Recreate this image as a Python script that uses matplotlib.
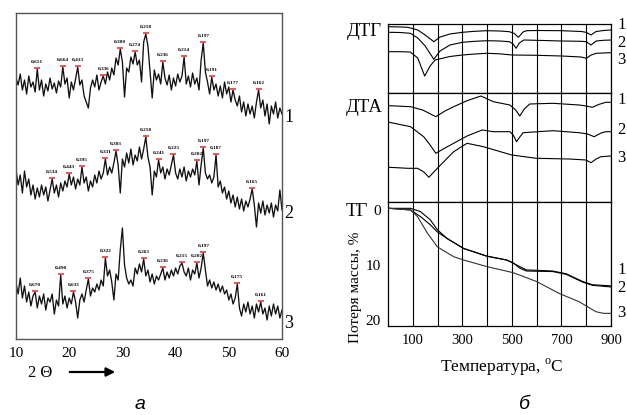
import numpy as np
import matplotlib.pyplot as plt

plt.rcParams['font.family'] = ['Liberation Serif', 'DejaVu Serif']
plt.rcParams['mathtext.fontset'] = 'custom'
plt.rcParams['mathtext.rm'] = 'Liberation Serif'

## XRD patterns (panel a), intensities, arbitrary units
two_theta = np.linspace(10, 60, 126)

xrd_1 = [42, 35, 46, 30, 40, 26, 44, 33, 38, 28, 51, 30, 40, 24, 36, 29, 42, 31, 37, 27,
         39, 33, 53, 36, 42, 22, 38, 30, 41, 53, 35, 40, 24, 18, 12, 32, 40, 33, 45, 30,
         38, 44, 36, 48, 40, 52, 45, 62, 55, 71, 58, 23, 52, 48, 63, 56, 68, 55, 60, 38,
         78, 86, 74, 48, 22, 50, 40, 46, 36, 58, 42, 35, 45, 30, 42, 34, 46, 38, 44, 63,
         36, 44, 33, 47, 36, 42, 30, 60, 77, 48, 38, 26, 43, 30, 36, 24, 34, 22, 38, 26,
         33, 18, 30, 20, 14, 24, 8, 18, 4, 16, 6, 14, 2, 18, 30, 12, 20, 4, 16, -4,
         14, 6, 18, 2, 12, 6]
xrd_2 = [45, 30, 40, 22, 44, 28, 36, 20, 30, 16, 27, 18, 30, 20, 28, 14, 25, 36, 22, 30,
         18, 32, 24, 34, 28, 41, 30, 38, 26, 36, 30, 48, 32, 38, 24, 34, 28, 40, 32, 44,
         36, 42, 56, 40, 48, 42, 52, 64, 50, 22, 56, 48, 62, 52, 66, 50, 60, 54, 68, 56,
         66, 78, 58, 48, 20, 44, 38, 55, 42, 48, 36, 46, 40, 50, 60, 42, 36, 46, 38, 48,
         34, 44, 38, 46, 40, 54, 30, 50, 67, 42, 36, 40, 32, 38, 60, 28, 34, 22, 28, 16,
         24, 12, 20, 8, 18, 6, 16, 4, 14, 8, 16, 26, 10, -12, 12, 2, 14, 0, 10, 2,
         12, -2, 10, 4, 25, 5]
xrd_3 = [37, 26, 42, 22, 34, 18, 28, 14, 24, 28, 12, 24, 16, 26, 10, 22, 18, 26, 6, 20,
         14, 45, 16, 24, 12, 22, 16, 28, 18, 2, 20, 26, 18, 30, 41, 24, 32, 28, 36, 30,
         40, 34, 62, 44, 50, 38, 20, 46, 40, 70, 92, 55, 42, 36, 40, 34, 52, 46, 56, 48,
         61, 44, 50, 38, 46, 36, 44, 40, 46, 52, 40, 48, 42, 50, 44, 52, 46, 54, 57, 48,
         44, 52, 40, 50, 46, 57, 42, 52, 67, 50, 34, 40, 32, 38, 30, 36, 28, 34, 26, 30,
         20, 26, 16, 22, 36, 12, 4, 16, 8, 18, 6, 14, 2, 16, 8, 18, 6, 12, 0, 14,
         4, 16, 6, 14, 2, 10]
xrd_offsets = [219, 124, 19]

peaks_pos_1 = [14.0, 18.8, 21.6, 26.4, 29.6, 32.4, 34.4, 37.6, 41.6, 45.2, 46.8, 50.8, 55.6]
peaks_lab_1 = ['0,651', '0,664', '0,413', '0,336', '0,300', '0,274', '0,258', '0,236',
               '0,214', '0,197', '0,191', '0,177', '0,162']
peaks_pos_2 = [16.8, 20.0, 22.4, 26.8, 28.8, 34.4, 36.8, 39.6, 44.0, 45.2, 47.6, 54.4]
peaks_lab_2 = ['0,534', '0,443', '0,395', '0,331', '0,303', '0,258', '0,241', '0,225',
               '0,202', '0,197', '0,187', '0,165']
peaks_pos_3 = [13.6, 18.4, 20.8, 23.6, 26.8, 34.0, 37.6, 41.2, 44.0, 45.2, 51.6, 56.0]
peaks_lab_3 = ['0,670', '0,490', '0,633', '0,375', '0,322', '0,263', '0,236', '0,215',
               '0,202', '0,197', '0,175', '0,161']

## Thermal analysis (panel b)
dtg_T1 = [5, 50, 80, 120, 150, 185, 210, 250, 300, 350, 400, 450, 490, 510, 526, 545, 560, 600, 700, 780, 800, 819, 840, 870, 900]
dtg_1 = [66.3, 66, 65.7, 63, 58, 51.3, 56, 59, 60.7, 61.7, 62.3, 62, 61.3, 59.5, 55.7, 61, 62.3, 62.5, 62.3, 61.5, 60.7, 58, 61.5, 62.5, 63]
dtg_T2 = [5, 50, 90, 120, 150, 185, 210, 250, 300, 350, 400, 450, 490, 505, 517, 530, 548, 600, 700, 780, 800, 819, 840, 870, 900]
dtg_2 = [60.7, 60.5, 59.7, 55, 47, 33.7, 42, 48, 50.7, 51.7, 52.3, 52, 51.3, 49, 44.7, 50, 53, 52.7, 52, 51.7, 51.3, 48, 52, 52.7, 53]
dtg_T3 = [5, 50, 90, 120, 148, 170, 190, 250, 300, 350, 400, 450, 500, 600, 700, 780, 800, 820, 840, 900]
dtg_3 = [41.3, 41.3, 41, 35, 17, 27, 33, 36.5, 38, 39, 39.7, 39.2, 38, 37.7, 37, 36, 34.7, 38, 39.7, 40.3]

dta_T1 = [5, 91, 140, 193, 230, 265, 319, 375, 425, 492, 515, 532, 550, 572, 665, 772, 800, 825, 850, 879, 900]
dta_1 = [96.3, 95.3, 92, 85.3, 91, 95.3, 101.3, 106, 100.3, 97, 92, 86, 93, 98, 98.7, 97, 96, 94.7, 97.5, 99.7, 99.7]
dta_T2 = [5, 91, 144, 170, 193, 230, 265, 319, 380, 425, 492, 505, 519, 532, 545, 665, 772, 805, 832, 860, 879, 900]
dta_2 = [79.7, 75.3, 65.3, 57, 48.7, 54, 58.7, 66, 72, 70.3, 70.3, 67, 60.3, 65, 69.3, 71.3, 69.3, 68, 65.3, 69, 70.3, 70.3]
dta_T3 = [5, 79, 119, 145, 165, 185, 212, 265, 319, 385, 499, 599, 732, 799, 819, 840, 859, 900]
dta_3 = [34.7, 33.7, 33.7, 30, 24.7, 30, 37, 50.3, 58.7, 55.3, 47, 43.7, 43, 42, 39.3, 43, 45.3, 46]

tg_T1 = [5, 91, 131, 171, 199, 239, 305, 399, 479, 532, 559, 665, 719, 785, 825, 900]
tg_1 = [-0.3, -0.3, 0.3, 1.8, 3.6, 5.2, 7.0, 8.4, 9.1, 10.3, 10.9, 11.1, 11.6, 13.0, 13.6, 13.8]
tg_T2 = [5, 91, 131, 171, 199, 239, 305, 399, 479, 505, 532, 559, 665, 719, 785, 825, 900]
tg_2 = [-0.3, 0.0, 1.2, 2.7, 4.0, 5.2, 7.0, 8.4, 9.1, 9.6, 10.6, 11.1, 11.2, 11.7, 13.1, 13.7, 14.0]
tg_T3 = [5, 91, 119, 159, 199, 265, 305, 399, 505, 599, 692, 772, 839, 870, 900]
tg_3 = [-0.3, 0.0, 1.2, 4.2, 6.7, 8.5, 9.1, 10.3, 11.4, 13.0, 15.2, 16.7, 18.5, 18.8, 18.8]

W, H = 627, 415
fig = plt.figure(figsize=(W / 100, H / 100), dpi=100)

def fx(px):
    return px / W

def fy(py):
    return 1 - py / H

# ---- panel a
ax = fig.add_axes([fx(16), fy(339), 266 / W, 326 / H])
ax.set_xlim(10, 60)
ax.set_ylim(0, 326)
for s in ax.spines.values():
    s.set_color('#555555')
    s.set_linewidth(1.0)

series = [(xrd_1, peaks_pos_1, peaks_lab_1), (xrd_2, peaks_pos_2, peaks_lab_2), (xrd_3, peaks_pos_3, peaks_lab_3)]
for (vals, ppos, plab), off in zip(series, xrd_offsets):
    y = np.array(vals) + off
    ax.plot(two_theta, y, color='#111111', lw=0.95)
    for p, lab in zip(ppos, plab):
        i = np.argmin(np.abs(two_theta - p))
        ax.plot(p, y[i] + 1, marker='_', color='#e0403a', ms=5, mew=1.2)
        ax.text(p, y[i] + 5, lab, fontsize=3.8, fontweight='bold', ha='center', va='bottom')

ax.set_xticks([10, 20, 30, 40, 50, 60])
ax.set_yticks([])
ax.tick_params(axis='x', length=0, pad=6, labelsize=11)

for lab, py in zip(['1', '2', '3'], [117, 213, 323]):
    fig.text(fx(289), fy(py), lab, fontsize=13, ha='center', va='center')

fig.text(fx(40), fy(373), '2 Θ', fontsize=12, ha='center', va='center')
ax.annotate('', xy=(fx(118), fy(372)), xytext=(fx(67), fy(372)),
            xycoords='figure fraction', textcoords='figure fraction',
            arrowprops=dict(arrowstyle='-|>', color='k', lw=1.6, mutation_scale=13),
            annotation_clip=False)
fig.text(fx(140), fy(404), 'a', fontsize=14, style='italic', family='Liberation Sans',
         ha='center', va='center')

# ---- panel b
xl, wd = fx(388), 223 / W
ax_dtg = fig.add_axes([xl, fy(93), wd, 69 / H])
ax_dta = fig.add_axes([xl, fy(202), wd, 109 / H])
ax_tg = fig.add_axes([xl, fy(326), wd, 124 / H])

ax_dtg.set_ylim(0, 69)
ax_dta.set_ylim(0, 109)
ax_tg.set_ylim(21.1, -1.45)

ax_dtg.plot(dtg_T1, dtg_1, color='k', lw=0.8)
ax_dtg.plot(dtg_T2, dtg_2, color='k', lw=0.8)
ax_dtg.plot(dtg_T3, dtg_3, color='k', lw=0.8)
ax_dta.plot(dta_T1, dta_1, color='k', lw=0.8)
ax_dta.plot(dta_T2, dta_2, color='k', lw=0.8)
ax_dta.plot(dta_T3, dta_3, color='k', lw=0.8)
ax_tg.plot(tg_T1, tg_1, color='k', lw=0.8)
ax_tg.plot(tg_T2, tg_2, color='k', lw=0.8)
ax_tg.plot(tg_T3, tg_3, color='#333333', lw=0.8)

for a in [ax_dtg, ax_dta, ax_tg]:
    a.set_xlim(0, 900)
    a.set_xticks(range(100, 901, 100))
    a.grid(axis='x', color='k', lw=0.8)
    a.tick_params(length=0)
    for s in a.spines.values():
        s.set_linewidth(0.9)
    if a is not ax_tg:
        a.set_yticks([])
        a.set_xticklabels([])

ax_tg.set_xticklabels(['100', '', '300', '', '500', '', '700', '', '900'])
ax_tg.tick_params(axis='x', pad=6, labelsize=10.5)
ax_tg.set_yticks([0, 10, 20])
ax_tg.tick_params(axis='y', pad=5, labelsize=11)

fig.text(fx(364), fy(31), 'ДТГ', fontsize=13.5, ha='center', va='center')
fig.text(fx(364), fy(107), 'ДТА', fontsize=13.5, ha='center', va='center')
fig.text(fx(357), fy(211), 'ТГ', fontsize=13.5, ha='center', va='center')
fig.text(fx(356), fy(287), 'Потеря массы, %', fontsize=11, rotation=90, ha='center', va='center')
fig.text(fx(502), fy(367), r'Температура, $^{\rm o}$C', fontsize=12.5, ha='center', va='center')
fig.text(fx(524), fy(404), 'б', fontsize=14, style='italic', family='Liberation Sans',
         ha='center', va='center')

right_nums = [('1', 25), ('2', 43), ('3', 60), ('1', 100), ('2', 130), ('3', 158),
              ('1', 270), ('2', 288), ('3', 313)]
for lab, py in right_nums:
    fig.text(fx(617), fy(py), lab, fontsize=12, ha='left', va='center')

plt.savefig('out.png', dpi=100)
plt.close()
